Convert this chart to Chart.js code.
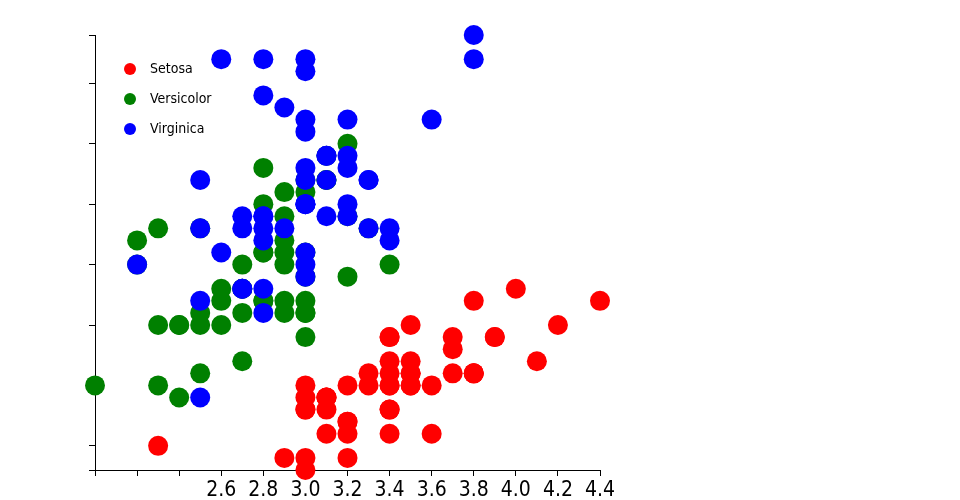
<!DOCTYPE html>
<html>
<head>
<meta charset="utf-8">
<script src="https://cdn.jsdelivr.net/npm/chart.js@4"></script>
<style>
  html, body { margin: 0; padding: 0; background: #fff; }
</style>
</head>
<body>
<canvas id="chart" width="960" height="500"></canvas>
<script>
// Iris data: sepal width (x) vs sepal length (y)
const speciesNames = ['Setosa', 'Versicolor', 'Virginica'];
const speciesColors = ['#ff0000', '#008000', '#0000ff'];

const setosaWidth = [3.5, 3.0, 3.2, 3.1, 3.6, 3.9, 3.4, 3.4, 2.9, 3.1, 3.7, 3.4, 3.0, 3.0, 4.0, 4.4, 3.9, 3.5, 3.8, 3.8,
  3.4, 3.7, 3.6, 3.3, 3.4, 3.0, 3.4, 3.5, 3.4, 3.2, 3.1, 3.4, 4.1, 4.2, 3.1, 3.2, 3.5, 3.1, 3.0, 3.4,
  3.5, 2.3, 3.2, 3.5, 3.8, 3.0, 3.8, 3.2, 3.7, 3.3];
const setosaLength = [5.1, 4.9, 4.7, 4.6, 5.0, 5.4, 4.6, 5.0, 4.4, 4.9, 5.4, 4.8, 4.8, 4.3, 5.8, 5.7, 5.4, 5.1, 5.7, 5.1,
  5.4, 5.1, 4.6, 5.1, 4.8, 5.0, 5.0, 5.2, 5.2, 4.7, 4.8, 5.4, 5.2, 5.5, 4.9, 5.0, 5.5, 4.9, 4.4, 5.1,
  5.0, 4.5, 4.4, 5.0, 5.1, 4.8, 5.1, 4.6, 5.3, 5.0];

const versicolorWidth = [3.2, 3.2, 3.1, 2.3, 2.8, 2.8, 3.3, 2.4, 2.9, 2.7, 2.0, 3.0, 2.2, 2.9, 2.9, 3.1, 3.0, 2.7, 2.2, 2.5,
  3.2, 2.8, 2.5, 2.8, 2.9, 3.0, 2.8, 3.0, 2.9, 2.6, 2.4, 2.4, 2.7, 2.7, 3.0, 3.4, 3.1, 2.3, 3.0, 2.5,
  2.6, 3.0, 2.6, 2.3, 2.7, 3.0, 2.9, 2.9, 2.5, 2.8];
const versicolorLength = [7.0, 6.4, 6.9, 5.5, 6.5, 5.7, 6.3, 4.9, 6.6, 5.2, 5.0, 5.9, 6.0, 6.1, 5.6, 6.7, 5.6, 5.8, 6.2, 5.6,
  5.9, 6.1, 6.3, 6.1, 6.4, 6.6, 6.8, 6.7, 6.0, 5.7, 5.5, 5.5, 5.8, 6.0, 5.4, 6.0, 6.7, 6.3, 5.6, 5.5,
  5.5, 6.1, 5.8, 5.0, 5.6, 5.7, 5.7, 6.2, 5.1, 5.7];

const virginicaWidth = [3.3, 2.7, 3.0, 2.9, 3.0, 3.0, 2.5, 2.9, 2.5, 3.6, 3.2, 2.7, 3.0, 2.5, 2.8, 3.2, 3.0, 3.8, 2.6, 2.2,
  3.2, 2.8, 2.8, 2.7, 3.3, 3.2, 2.8, 3.0, 2.8, 3.0, 2.8, 3.8, 2.8, 2.8, 2.6, 3.0, 3.4, 3.1, 3.0, 3.1,
  3.1, 3.1, 2.7, 3.2, 3.3, 3.0, 2.5, 3.0, 3.4, 3.0];
const virginicaLength = [6.3, 5.8, 7.1, 6.3, 6.5, 7.6, 4.9, 7.3, 6.7, 7.2, 6.5, 6.4, 6.8, 5.7, 5.8, 6.4, 6.5, 7.7, 7.7, 6.0,
  6.9, 5.6, 7.7, 6.3, 6.7, 7.2, 6.2, 6.1, 6.4, 7.2, 7.4, 7.9, 6.4, 6.3, 6.1, 7.7, 6.3, 6.4, 6.0, 6.9,
  6.7, 6.9, 5.8, 6.8, 6.7, 6.7, 6.3, 6.5, 6.2, 5.9];

// Axis ticks
const xTicks = [2.0, 2.2, 2.4, 2.6, 2.8, 3.0, 3.2, 3.4, 3.6, 3.8, 4.0, 4.2, 4.4];
const xTickLabels = ['', '', '', '2.6', '2.8', '3.0', '3.2', '3.4', '3.6', '3.8', '4.0', '4.2', '4.4'];
const yTicks = [4.3, 4.5, 5.0, 5.5, 6.0, 6.5, 7.0, 7.5, 7.9];

const fontFamily = '"Liberation Sans Narrow", "DejaVu Sans Condensed", "Noto Sans", sans-serif';

function toPoints(xs, ys) {
  return xs.map((x, i) => ({ x: x, y: ys[i] }));
}

// Legend drawn inside the plot, top-left
const insideLegend = {
  id: 'insideLegend',
  afterDraw(chart) {
    const ctx = chart.ctx;
    ctx.save();
    ctx.font = '14px ' + fontFamily;
    ctx.textBaseline = 'middle';
    ctx.textAlign = 'left';
    chart.data.datasets.forEach((ds, i) => {
      const y = 69 + i * 30;
      ctx.fillStyle = ds.backgroundColor;
      ctx.beginPath();
      ctx.arc(130, y, 6, 0, Math.PI * 2);
      ctx.fill();
      ctx.fillStyle = '#000';
      ctx.fillText(ds.label, 150, y);
    });
    ctx.restore();
  }
};

const allWidths = [setosaWidth, versicolorWidth, virginicaWidth];
const allLengths = [setosaLength, versicolorLength, virginicaLength];

new Chart(document.getElementById('chart').getContext('2d'), {
  type: 'scatter',
  data: {
    datasets: speciesNames.map((name, i) => ({
      label: name,
      data: toPoints(allWidths[i], allLengths[i]),
      backgroundColor: speciesColors[i],
      borderWidth: 0,
      pointRadius: 10,
      pointHoverRadius: 10,
      order: 2 - i,
      clip: false
    }))
  },
  options: {
    responsive: false,
    animation: false,
    layout: { padding: { top: 35, right: 360, left: 0, bottom: 0 } },
    plugins: {
      legend: { display: false },
      tooltip: { enabled: false }
    },
    scales: {
      x: {
        type: 'linear',
        min: 2.0,
        max: 4.4,
        z: 1,
        afterBuildTicks: scale => { scale.ticks = xTicks.map(v => ({ value: v })); },
        afterFit: scale => { scale.height = 30; },
        grid: { drawOnChartArea: false, drawTicks: true, tickLength: 6, color: '#000' },
        border: { display: true, color: '#000', width: 1 },
        ticks: {
          autoSkip: false,
          maxRotation: 0,
          padding: 2,
          color: '#000',
          font: { family: fontFamily, size: 21 },
          callback: (v, i) => xTickLabels[i]
        }
      },
      y: {
        type: 'linear',
        min: 4.3,
        max: 7.9,
        z: 1,
        afterBuildTicks: scale => { scale.ticks = yTicks.map(v => ({ value: v })); },
        afterFit: scale => { scale.width = 95; },
        grid: { drawOnChartArea: false, drawTicks: true, tickLength: 6, color: '#000' },
        border: { display: true, color: '#000', width: 1 },
        ticks: { display: true, callback: () => '', font: { size: 1 } }
      }
    }
  },
  plugins: [insideLegend]
});
</script>
</body>
</html>
